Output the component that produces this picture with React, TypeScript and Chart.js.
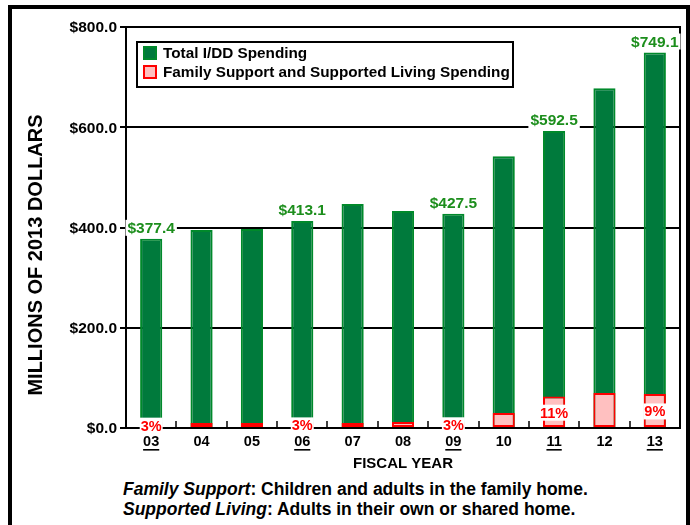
import { useEffect, useRef } from 'react';
import { Chart, registerables } from 'chart.js';

Chart.register(...registerables);

const FONT = "'Liberation Sans', Arial, Helvetica, sans-serif";

// ---- data ----
const fiscalYears = ['03', '04', '05', '06', '07', '08', '09', '10', '11', '12', '13'];
const totalSpending = [377.4, 395, 397, 413.1, 447, 433, 427.5, 542, 592.5, 678, 749.1];
const familySupportSpending = [11.3, 10, 10, 12.4, 10, 12, 12.8, 30, 63, 70, 68];
const totalValueLabels = ['$377.4', '', '', '$413.1', '', '', '$427.5', '', '$592.5', '', '$749.1'];
const shareLabels = ['3%', '', '', '3%', '', '', '3%', '', '11%', '', '9%'];
const underlinedYears = ['03', '06', '09', '11', '13'];
const yTickValues = [0, 200, 400, 600, 800];
const seriesNames = ['Total I/DD Spending', 'Family Support and Supported Living Spending'];
const yAxisTitle = 'MILLIONS OF 2013 DOLLARS';
const xAxisTitle = 'FISCAL YEAR';

const GREEN = '#007A3C';
const GREEN_BORDER = '#00892B';
const GREEN_TEXT = '#1C8E1C';
const PINK = '#FFC0C0';
const RED = '#FF0000';

const formatDollar = (v: number) => '$' + v.toFixed(1);

const overlayPlugin = {
  id: 'overlay',
  afterDraw(chart: any) {
    const { ctx, chartArea: ca, scales } = chart;
    const xs = scales.x;
    const ys = scales.y;
    ctx.save();

    // right border of plot
    ctx.strokeStyle = '#000';
    ctx.lineWidth = 2;
    ctx.beginPath();
    ctx.moveTo(ca.right, ca.top - 1);
    ctx.lineTo(ca.right, ca.bottom + 1);
    ctx.stroke();

    // inner tick marks on x axis
    ctx.lineWidth = 1.5;
    for (let i = 1; i < fiscalYears.length; i++) {
      const x = Math.round((xs.getPixelForValue(i - 1) + xs.getPixelForValue(i)) / 2);
      ctx.beginPath();
      ctx.moveTo(x, ca.bottom);
      ctx.lineTo(x, ca.bottom - 7);
      ctx.stroke();
    }

    // y tick labels
    ctx.fillStyle = '#000';
    ctx.textAlign = 'right';
    ctx.textBaseline = 'middle';
    ctx.font = `bold 15.5px ${FONT}`;
    yTickValues.forEach((v) => {
      ctx.fillText(formatDollar(v), ca.left - 9, ys.getPixelForValue(v) + 1);
    });

    // x labels
    ctx.textAlign = 'center';
    ctx.font = `bold 14.5px ${FONT}`;
    fiscalYears.forEach((yr, i) => {
      const x = xs.getPixelForValue(i);
      const y = ca.bottom + 14;
      ctx.fillText(yr, x, y);
      if (underlinedYears.includes(yr)) {
        const w = ctx.measureText(yr).width;
        ctx.fillRect(x - w / 2, y + 7, w, 1.6);
      }
    });

    // x title
    ctx.font = `bold 15px ${FONT}`;
    ctx.fillText(xAxisTitle, (ca.left + ca.right) / 2, ca.bottom + 36);

    // y title
    ctx.save();
    ctx.translate(24, 246);
    ctx.rotate(-Math.PI / 2);
    ctx.font = `bold 20px ${FONT}`;
    ctx.fillText(yAxisTitle, 0, 0);
    ctx.restore();

    const m0 = chart.getDatasetMeta(0);
    const m1 = chart.getDatasetMeta(1);

    // total value labels
    ctx.font = `bold 15.5px ${FONT}`;
    totalValueLabels.forEach((t, i) => {
      if (!t) return;
      const bar = m0.data[i];
      const x = bar.x;
      const y = bar.y - 11;
      const w = ctx.measureText(t).width;
      ctx.fillStyle = '#fff';
      ctx.fillRect(x - w / 2 - 2, y - 8, w + 4, 16);
      ctx.fillStyle = GREEN_TEXT;
      ctx.fillText(t, x, y + 1);
    });

    // share labels
    ctx.font = `bold 14.5px ${FONT}`;
    shareLabels.forEach((t, i) => {
      if (!t) return;
      const bar = m1.data[i];
      const x = bar.x;
      const y = (bar.y + bar.base) / 2 + 1;
      const w = Math.max(ctx.measureText(t).width + 2, bar.width);
      ctx.fillStyle = '#fff';
      ctx.fillRect(x - w / 2, y - 8, w, 16);
      ctx.fillStyle = RED;
      ctx.fillText(t, x, y + 1);
    });

    // legend
    const lx = ca.left + 11;
    const ly = ca.top + 15;
    const lw = 376;
    const lh = 45;
    ctx.fillStyle = '#fff';
    ctx.fillRect(lx, ly, lw, lh);
    ctx.strokeStyle = '#000';
    ctx.lineWidth = 2;
    ctx.strokeRect(lx, ly, lw, lh);
    ctx.font = `bold 15.3px ${FONT}`;
    ctx.textAlign = 'left';
    chart.data.datasets.forEach((ds: any, i: number) => {
      const my = ly + 5 + i * 19;
      ctx.fillStyle = ds.backgroundColor;
      ctx.fillRect(lx + 7, my, 12, 12);
      ctx.strokeStyle = ds.borderColor;
      ctx.lineWidth = 2;
      ctx.strokeRect(lx + 7, my, 12, 12);
      ctx.fillStyle = '#000';
      ctx.fillText(ds.label, lx + 26, my + 7);
    });

    ctx.restore();
  },
};

export default function App() {
  const ref = useRef<HTMLCanvasElement>(null);

  useEffect(() => {
    const chart = new Chart(ref.current as HTMLCanvasElement, {
      type: 'bar',
      data: {
        labels: fiscalYears,
        datasets: [
          {
            label: seriesNames[0],
            data: totalSpending,
            backgroundColor: GREEN,
            borderColor: GREEN_BORDER,
            borderWidth: 2,
            borderSkipped: false,
            grouped: false,
            order: 2,
            barPercentage: 0.44,
            categoryPercentage: 1,
          } as any,
          {
            label: seriesNames[1],
            data: familySupportSpending,
            backgroundColor: PINK,
            borderColor: RED,
            borderWidth: 2,
            borderSkipped: false,
            grouped: false,
            order: 1,
            barPercentage: 0.44,
            categoryPercentage: 1,
          } as any,
        ],
      },
      options: {
        responsive: false,
        animation: false,
        devicePixelRatio: 1,
        layout: { padding: { top: 18, right: 6, left: 0, bottom: 0 } },
        plugins: { legend: { display: false }, tooltip: { enabled: false } },
        scales: {
          x: {
            type: 'category',
            grid: { display: false, drawTicks: false },
            border: { display: true, color: '#000', width: 2 },
            ticks: { display: false },
            afterFit: (s: any) => {
              s.height = 46;
            },
          },
          y: {
            min: 0,
            max: 800,
            afterBuildTicks: (s: any) => {
              s.ticks = yTickValues.map((v) => ({ value: v }));
            },
            ticks: { display: false },
            grid: { color: '#000', lineWidth: 2, tickLength: 6, drawTicks: true },
            border: { display: true, color: '#000', width: 2 },
            afterFit: (s: any) => {
              s.width = 114;
            },
          },
        },
      } as any,
      plugins: [overlayPlugin],
    });
    return () => chart.destroy();
  }, []);

  return (
    <div
      style={{
        position: 'absolute',
        left: 8,
        top: 5,
        width: 682,
        height: 520,
        border: '4px solid #000',
        borderBottom: 'none',
        boxSizing: 'border-box',
        background: '#fff',
      }}
    >
      <canvas
        ref={ref}
        width={674}
        height={465}
        style={{ position: 'absolute', left: 0, top: 0, width: 674, height: 465 }}
      />
      <div
        style={{
          position: 'absolute',
          left: 111,
          top: 470,
          fontFamily: FONT,
          fontSize: 17.5,
          lineHeight: '20px',
          fontWeight: 'bold',
          color: '#000',
          whiteSpace: 'nowrap',
        }}
      >
        <div>
          <i>Family Support</i>: Children and adults in the family home.
        </div>
        <div>
          <i>Supported Living</i>: Adults in their own or shared home.
        </div>
      </div>
    </div>
  );
}
